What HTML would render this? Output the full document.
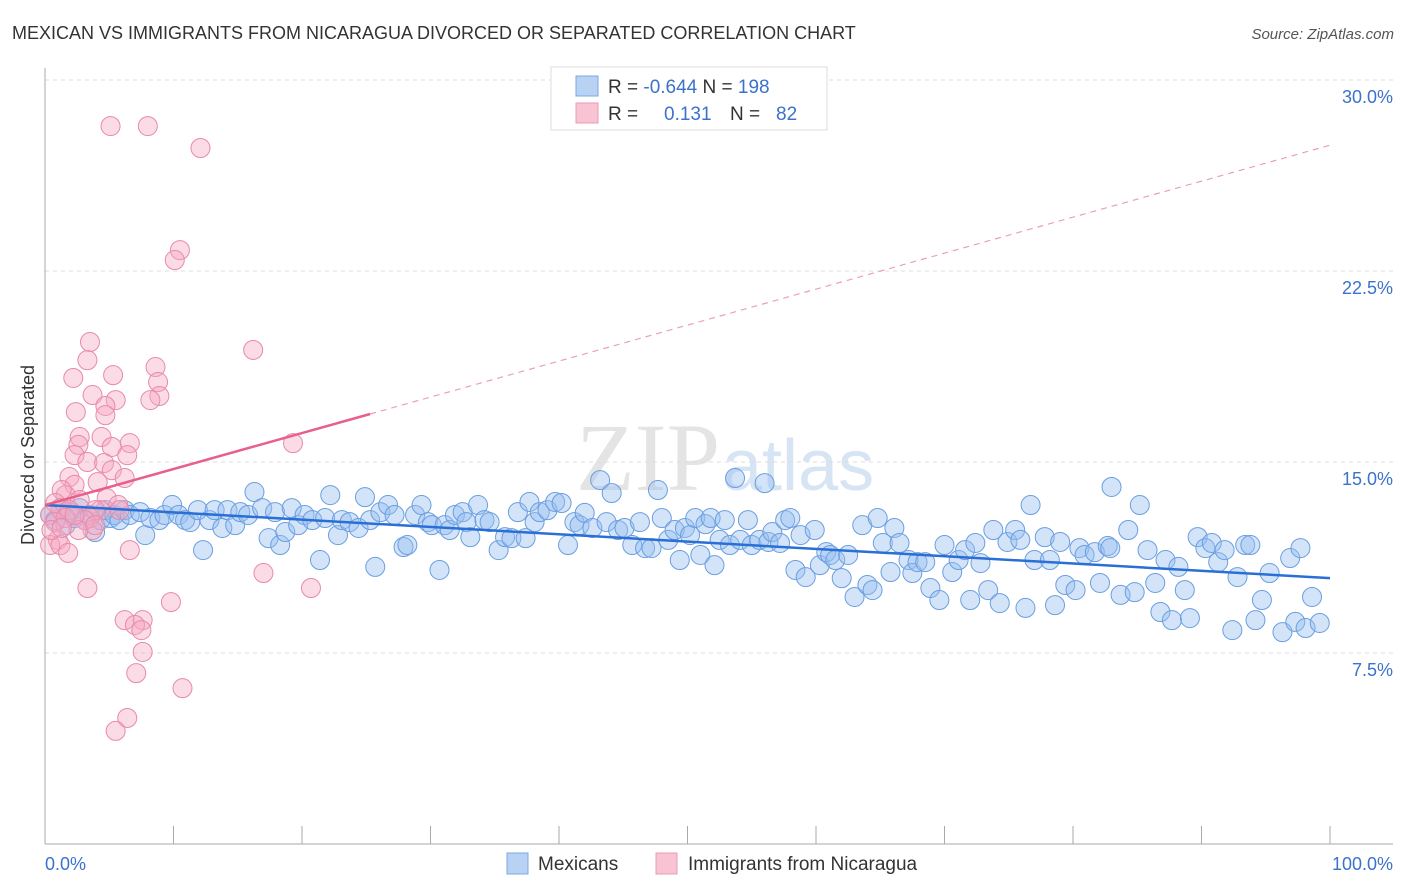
<!DOCTYPE html>
<html><head><meta charset="utf-8"><style>
body{margin:0;background:#fff;font-family:"Liberation Sans",sans-serif;}
#wrap{position:relative;width:1406px;height:892px;overflow:hidden;}
</style></head><body>
<div id="wrap">
<svg id="svg" width="1406" height="892" xmlns="http://www.w3.org/2000/svg">
<text x="12" y="39" font-size="18" fill="#333">MEXICAN VS IMMIGRANTS FROM NICARAGUA DIVORCED OR SEPARATED CORRELATION CHART</text>
<text x="1394" y="39" font-size="15" fill="#555" font-style="italic" text-anchor="end">Source: ZipAtlas.com</text>
<text x="720" y="490" font-size="96" fill="#e4e4e4" text-anchor="end" font-family="Liberation Serif">ZIP</text>
<text x="722" y="490" font-size="72" fill="#d6e4f4">atlas</text>
<g id="grid"></g><g id="axes"></g><g id="pts"></g><g id="trend"></g>
<text transform="translate(34,455) rotate(-90)" font-size="18" fill="#333" text-anchor="middle">Divorced or Separated</text>
<g>
<rect x="551" y="67" width="276" height="63" fill="#fff" stroke="#ddd"/>
<rect x="576" y="76" width="22" height="20" fill="#b8d2f4" stroke="#7aa8e4"/>
<rect x="576" y="103" width="22" height="20" fill="#f8c4d4" stroke="#ec98b4"/>
<text x="608" y="93" font-size="19" fill="#333">R = <tspan fill="#3a72cc">-0.644</tspan>   N = <tspan fill="#3a72cc">198</tspan></text>
<text x="608" y="120" font-size="19" fill="#333">R = <tspan fill="#3a72cc" x="664">0.131</tspan><tspan x="730">N = </tspan><tspan fill="#3a72cc" x="776">82</tspan></text>
</g>
<g>
<rect x="507" y="853" width="21" height="21" fill="#b8d2f4" stroke="#7aa8e4"/>
<text x="538" y="870" font-size="19" fill="#333">Mexicans</text>
<rect x="656" y="853" width="21" height="21" fill="#f8c4d4" stroke="#ec98b4"/>
<text x="688" y="870" font-size="19" fill="#333">Immigrants from Nicaragua</text>
</g>
</svg>
</div>
<script>
const yTicks=[7.5,15,22.5,30];
const yTickLabels=["7.5%","15.0%","22.5%","30.0%"];
const xTickVals=[0,10,20,30,40,50,60,70,80,90,100];
const blueX=[0.4,0.8,1.2,1.6,1.9,2.3,2.7,3.1,3.5,3.9,4.3,4.7,5.1,5.4,5.8,6.2,6.6,7.4,7.8,8.2,8.9,9.3,9.9,10.4,10.9,11.3,11.9,12.3,12.8,13.2,13.8,14.2,14.8,15.2,15.8,16.3,16.9,17.4,17.9,18.3,18.7,19.2,19.7,20.2,20.8,21.4,21.8,22.2,22.8,23.1,23.7,24.4,24.9,25.3,25.7,26.1,26.7,27.2,27.9,28.2,28.8,29.3,29.8,30.1,30.7,31.1,31.5,31.9,32.5,32.8,33.1,33.7,34.2,34.6,35.3,35.8,36.3,36.8,37.4,37.7,38.1,38.5,39.1,39.7,40.2,40.7,41.2,41.6,42.0,42.6,43.2,43.7,44.1,44.6,45.1,45.7,46.3,46.7,47.2,47.7,48.0,48.5,49.0,49.4,49.8,50.2,50.6,51.0,51.4,51.8,52.1,52.5,52.9,53.3,53.7,54.1,54.7,55.0,55.6,56.0,56.3,56.6,57.2,57.6,58.0,58.4,58.8,59.2,59.9,60.3,60.8,61.1,61.5,62.0,62.5,63.0,63.6,64.0,64.4,64.8,65.2,65.8,66.1,66.5,67.2,67.5,67.9,68.5,68.9,69.6,70.0,70.6,71.1,71.6,72.0,72.4,72.8,73.4,73.8,74.3,74.9,75.5,75.9,76.3,76.7,77.0,77.8,78.2,78.6,79.0,79.4,80.2,80.5,80.9,81.7,82.1,82.7,82.9,83.0,83.7,84.3,84.8,85.2,85.8,86.4,86.8,87.2,87.7,88.2,88.7,89.1,89.7,90.3,90.8,91.3,91.8,92.4,92.8,93.4,93.8,94.2,94.7,95.3,96.3,96.9,97.3,97.7,98.1,98.6,99.2];
const blueY=[12.92,12.72,13.11,12.52,13.03,12.8,13.19,12.72,12.92,12.25,12.72,13.11,12.8,12.92,12.72,13.11,12.92,13.03,12.13,12.8,12.72,12.92,13.31,12.92,12.72,12.64,13.11,11.54,12.72,13.11,12.41,13.11,12.52,13.03,12.92,13.82,13.19,12.01,13.03,11.74,12.25,13.19,12.52,12.92,12.72,11.15,12.8,13.7,12.13,12.72,12.64,12.41,13.62,12.72,10.88,13.03,13.31,12.92,11.66,11.74,12.92,13.31,12.64,12.52,10.76,12.52,12.33,12.92,13.03,12.64,12.05,13.31,12.72,12.64,11.54,12.05,12.01,13.03,12.01,13.43,12.64,13.03,13.11,13.43,13.39,11.74,12.64,12.52,13.0,12.41,14.29,12.64,13.78,12.33,12.41,11.74,12.64,11.62,11.62,13.9,12.8,11.94,12.33,11.15,12.41,12.13,12.8,11.35,12.56,12.8,10.95,11.94,12.72,11.74,14.37,11.94,12.72,11.74,11.94,14.17,11.86,12.25,11.82,12.72,12.8,10.76,12.13,10.48,12.33,10.95,11.46,11.35,11.15,10.44,11.35,9.7,12.52,10.17,9.97,12.8,11.82,10.68,12.41,11.82,11.15,10.64,11.07,11.07,10.05,9.58,11.74,10.68,11.15,11.54,9.58,11.82,11.03,9.97,12.33,9.46,11.86,12.33,11.94,9.27,13.31,11.15,12.05,11.15,9.38,11.86,10.17,9.97,11.62,11.35,11.46,10.25,11.7,11.62,14.02,9.78,12.33,9.89,13.31,11.54,10.25,9.11,11.15,8.79,10.88,9.97,8.87,12.05,11.62,11.82,11.07,11.54,8.4,10.48,11.74,11.74,8.79,9.58,10.64,8.32,11.23,8.72,11.62,8.48,9.7,8.68];
const pinkX=[5.1,8.0,12.1,10.5,10.1,16.2,3.5,3.3,8.6,5.3,8.8,2.2,8.9,8.2,3.7,5.5,2.4,4.7,4.7,2.7,4.4,6.6,2.6,19.3,5.2,6.4,2.3,3.3,4.6,5.2,1.9,6.2,4.1,2.3,1.6,1.3,4.8,2.7,0.8,1.2,5.7,5.8,4.3,1.9,0.4,0.8,1.6,3.5,1.0,0.4,1.2,1.8,3.7,6.6,3.3,6.2,7.6,7.0,7.5,9.8,17.0,20.7,7.6,7.1,10.7,6.4,5.5,3.9,3.1,2.6,0.5,1.3,2.3,3.9];
const pinkY=[28.19,28.19,27.33,23.32,22.93,19.4,19.71,19.0,18.73,18.41,18.14,18.3,17.59,17.43,17.63,17.43,16.96,17.2,16.84,15.98,15.98,15.74,15.67,15.74,15.59,15.27,15.27,15.0,14.96,14.68,14.41,14.37,14.21,14.1,13.7,13.9,13.58,13.51,13.39,13.19,13.31,13.11,13.11,13.11,12.92,12.64,12.8,12.8,11.94,11.74,11.74,11.43,12.33,11.54,10.05,8.79,8.79,8.6,8.4,9.5,10.64,10.05,7.54,6.71,6.12,4.95,4.44,13.11,12.72,12.33,12.33,12.41,12.92,12.52];
const blueTrend=[13.31,10.44];
const pinkTrend=[13.31,27.44];
const pinkSolidEnd=25.3;

const NS="http://www.w3.org/2000/svg";
const X0=45,X1=1330,Y0=844,PXPER=191/7.5;
function sx(v){return X0+(X1-X0)*v/100;}
function sy(v){return Y0-v*PXPER;}
function mk(tag,attrs,parent){const e=document.createElementNS(NS,tag);for(const k in attrs)e.setAttribute(k,attrs[k]);parent.appendChild(e);return e;}
const grid=document.getElementById('grid'),axes=document.getElementById('axes'),pts=document.getElementById('pts'),trend=document.getElementById('trend');
yTicks.forEach((t,i)=>{
  const l=mk('line',{x1:X0,x2:1393,y1:sy(t),y2:sy(t),stroke:'#ddd','stroke-dasharray':'4,4'},grid);
  
  
  const tx=mk('text',{x:1393,y:sy(t)+23,'font-size':18,fill:'#3a72cc','text-anchor':'end'},axes);
  tx.textContent=yTickLabels[i];
  
  
});
const ya=mk('line',{x1:X0,x2:X0,y1:68,y2:Y0,stroke:'#aaa'},axes);


const xa=mk('line',{x1:X0,x2:1393,y1:Y0,y2:Y0,stroke:'#aaa'},axes);


xTickVals.forEach(v=>{
  const t=mk('line',{x1:sx(v),x2:sx(v),y1:Y0,y2:Y0-18,stroke:'#aaa'},axes);
  
  
});
const xl0=mk('text',{x:45,y:870,'font-size':18,fill:'#3a72cc'},axes);xl0.textContent='0.0%';


const xl1=mk('text',{x:1393,y:870,'font-size':18,fill:'#3a72cc','text-anchor':'end'},axes);xl1.textContent='100.0%';


blueX.forEach((x,i)=>{
  const c=mk('circle',{cx:sx(x),cy:sy(blueY[i]),r:9.5,fill:'rgba(150,190,240,0.42)',stroke:'#6a9ee0','stroke-width':1},pts);
  
  
});
pinkX.forEach((x,i)=>{
  const c=mk('circle',{cx:sx(x),cy:sy(pinkY[i]),r:9.5,fill:'rgba(246,170,195,0.42)',stroke:'#e88aa8','stroke-width':1},pts);
  
  
});
const bt=mk('line',{x1:sx(0),y1:sy(blueTrend[0]),x2:sx(100),y2:sy(blueTrend[1]),stroke:'#2a6fd6','stroke-width':2.5},trend);


const pe=pinkTrend[0]+(pinkTrend[1]-pinkTrend[0])*pinkSolidEnd/100;
const pt1=mk('line',{x1:sx(0),y1:sy(pinkTrend[0]),x2:sx(pinkSolidEnd),y2:sy(pe),stroke:'#e8608a','stroke-width':2.5},trend);


const pt2=mk('line',{x1:sx(pinkSolidEnd),y1:sy(pe),x2:sx(100),y2:sy(pinkTrend[1]),stroke:'#eaa0b8','stroke-width':1.2,'stroke-dasharray':'6,5'},trend);


</script>
</body></html>
